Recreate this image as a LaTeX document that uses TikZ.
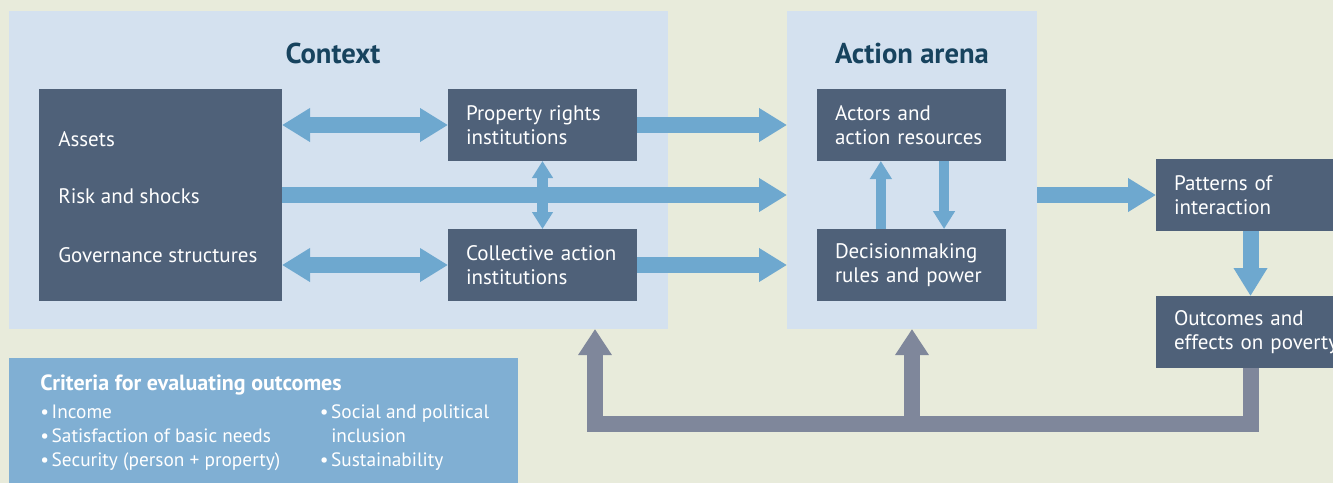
\documentclass[tikz,border=0pt]{standalone}
\usepackage{fontspec}
\setmainfont{PT Sans}
\usetikzlibrary{arrows.meta,calc}
\definecolor{bg}{HTML}{E8EBDB}
\definecolor{panelc}{HTML}{D4E1EF}
\definecolor{dbox}{HTML}{4F6179}
\definecolor{ablue}{HTML}{6EA8CF}
\definecolor{fgrey}{HTML}{7F879B}
\definecolor{critc}{HTML}{80AFD3}
\definecolor{titlec}{HTML}{17435E}
\begin{document}
\begin{tikzpicture}[x=0.75pt,y=-0.75pt,
  panel/.style={fill=panelc, inner sep=0pt, outer sep=0pt, anchor=north west},
  box/.style={fill=dbox, text=white, inner xsep=13.5pt, inner ysep=0pt, outer sep=0pt,
    text width=114.75pt, minimum height=54pt, align=left, font=\fontsize{15.75}{18}\selectfont},
  txt/.style={text=white, font=\fontsize{15.75}{18}\selectfont, inner sep=0pt, anchor=base west},
  crittxt/.style={text=white, font=\fontsize{14.5}{17}\selectfont, inner sep=0pt, anchor=base west},
  title/.style={text=titlec, font=\bfseries\fontsize{21.5}{24}\selectfont, inner sep=0pt, anchor=base},
  bigarrow/.style={draw=ablue, line width=12pt, -{Triangle[length=21pt,width=24pt]}},
  bigdbl/.style={draw=ablue, line width=12pt, {Triangle[length=21pt,width=24pt]}-{Triangle[length=21pt,width=24pt]}},
  smallarrow/.style={draw=ablue, line width=7.5pt, -{Triangle[length=13.5pt,width=15.75pt]}},
  smalldbl/.style={draw=ablue, line width=8pt, {Triangle[length=12.75pt,width=15pt]}-{Triangle[length=12.75pt,width=15pt]}},
  fb/.style={draw=fgrey, line width=12pt, -{Triangle[length=19.5pt,width=24pt]}}
]
\useasboundingbox (0,0) rectangle (1333,483);
\fill[bg] (0,0) rectangle (1333,483);

% panels
\node[panel, minimum width=494.25pt, minimum height=238.5pt] (ctx) at (9,11) {};
\node[panel, minimum width=187.5pt, minimum height=238.5pt] (arena) at (787,11) {};
\node[panel, fill=critc, minimum width=381.75pt, minimum height=93.75pt] (crit) at (9,358) {};

% titles
\node[title] (ctxtitle) at (333,63) {Context};
\node[title] (arenatitle) at (912,63) {Action arena};

% context box
\node[fill=dbox, inner sep=0pt, outer sep=0pt, anchor=north west, minimum width=182.25pt, minimum height=159pt] (ctxbox) at (39,89) {};
\node[txt] (assets) at (58,146) {Assets};
\node[txt] (risk) at (58,203) {Risk and shocks};
\node[txt] (gov) at (58,262) {Governance structures};

% institution boxes
\node[box] (prop) at (542.5,125) {Property rights\\institutions};
\node[box] (coll) at (542.5,265) {Collective action\\institutions};
\node[box] (actors) at (911.5,125) {Actors and\\action resources};
\node[box] (dec) at (911.5,265) {Decisionmaking\\rules and power};
\node[box] (patterns) at (1250.5,195) {Patterns of\\interaction};
\node[box] (outcomes) at (1250.5,332) {Outcomes and\\\mbox{effects on poverty}};

% criteria
\node[crittxt, font=\bfseries\fontsize{16.5}{18}\selectfont] (crittitle) at (40,390) {Criteria for evaluating outcomes};
\node[crittxt] (c1) at (40,418) {•\kern2pt Income};
\node[crittxt] (c2) at (40,442) {•\kern2pt Satisfaction of basic needs};
\node[crittxt] (c3) at (40,466.5) {•\kern2pt Security (person + property)};
\node[crittxt] (c4) at (319.5,418) {•\kern2pt Social and political};
\node[crittxt] (c5) at (331,442) {inclusion};
\node[crittxt] (c6) at (319.5,466.5) {•\kern2pt Sustainability};

% blue arrows
\draw[bigdbl] (ctxbox.east |- prop.west) -- (prop.west);
\draw[bigdbl] (ctxbox.east |- coll.west) -- (coll.west);
\draw[bigarrow] (ctxbox.east) -- (arena.west |- ctxbox.east);
\draw[bigarrow] (prop.east) -- (arena.west |- prop.east);
\draw[bigarrow] (coll.east) -- (arena.west |- coll.east);
\draw[smalldbl] (prop.south) -- (coll.north);
\draw[smallarrow] ([xshift=-23pt]dec.north) -- ([xshift=-23pt]actors.south);
\draw[smallarrow] ([xshift=24.4pt]actors.south) -- ([xshift=24.4pt]dec.north);
\draw[bigarrow] (arena.east |- patterns.west) -- (patterns.west);
\draw[bigarrow] (patterns.south) -- (outcomes.north);

% feedback
\coordinate (fbrow) at (0,424);
\coordinate (ctxin) at (595,329);
\draw[fb] (outcomes.south) |- (ctxin |- fbrow) -- (ctxin);
\draw[fb] (arena.south |- fbrow) -- (arena.south);
\end{tikzpicture}
\end{document}
